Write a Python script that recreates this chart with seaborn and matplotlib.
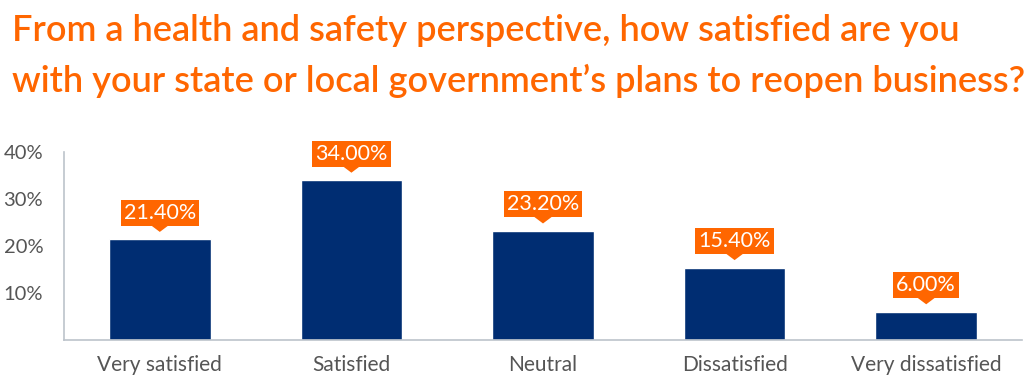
import matplotlib
matplotlib.use("Agg")
import matplotlib.pyplot as plt
import matplotlib.transforms as mtransforms
from matplotlib.patches import Polygon
import pandas as pd
import seaborn as sns

# data
categories = ["Very satisfied", "Satisfied", "Neutral", "Dissatisfied", "Very dissatisfied"]
shares = [21.4, 34.0, 23.2, 15.4, 6.0]
y_ticks = [10, 20, 30, 40]
title_lines = [
    "From a health and safety perspective, how satisfied are you",
    "with your state or local government\u2019s plans to reopen business?",
]

ORANGE = "#FF6600"
NAVY = "#002D72"
GREY_TXT = "#555555"
AXIS_COL = "#BCC3CB"

sns.set_style("white")
plt.rcParams["font.family"] = ["Lato", "DejaVu Sans"]

df = pd.DataFrame({"category": categories, "share": shares})

fig = plt.figure(figsize=(10.24, 3.8), dpi=100)
ax = fig.add_axes([64 / 1024, 1 - 340 / 380, (1022 - 64) / 1024, (340 - 152) / 380])

sns.barplot(data=df, x="category", y="share", order=categories, color=NAVY,
            saturation=1, width=0.53, ax=ax)

ax.set_xlim(-0.5, len(categories) - 0.5)
ax.set_ylim(0, 40)
ax.set_xlabel("")
ax.set_ylabel("")

for side in ["top", "right"]:
    ax.spines[side].set_visible(False)
for side in ["left", "bottom"]:
    ax.spines[side].set_color(AXIS_COL)
    ax.spines[side].set_linewidth(1.2)

ax.set_yticks(y_ticks)
ax.set_yticklabels([f"{t}%" for t in y_ticks])
ax.tick_params(axis="y", direction="in", length=17, width=1.2, color=AXIS_COL,
               pad=15, labelsize=14.5, labelcolor=GREY_TXT)

ax.set_xticks(range(len(categories)))
ax.set_xticklabels(categories)
ax.tick_params(axis="x", which="major", length=0, pad=11, labelsize=15, labelcolor=GREY_TXT)
ax.set_xticks([i - 0.5 for i in range(len(categories) + 1)], minor=True)
ax.tick_params(axis="x", which="minor", direction="in", length=4, width=1.2, color=AXIS_COL)

# orange callouts above each bar
for i, v in enumerate(shares):
    ax.annotate(f"{v:.2f}%", xy=(i, v), xytext=(0, 12), textcoords="offset points",
                ha="center", va="bottom", color="white", fontsize=15.5,
                bbox=dict(boxstyle="square,pad=0.14", fc=ORANGE, ec="none"))
    tri_tr = fig.dpi_scale_trans + mtransforms.ScaledTranslation(i, v, ax.transData)
    tri = Polygon([(-0.1, 0.15), (0.1, 0.15), (0.0, 0.075)], closed=True,
                  transform=tri_tr, fc=ORANGE, ec="none", clip_on=False)
    ax.add_patch(tri)

for k, base in enumerate([41, 92]):
    fig.text(12 / 1024, 1 - base / 380, title_lines[k], color=ORANGE, fontsize=26,
             fontweight="semibold", va="baseline", ha="left")

fig.savefig("out.png", dpi=100)
